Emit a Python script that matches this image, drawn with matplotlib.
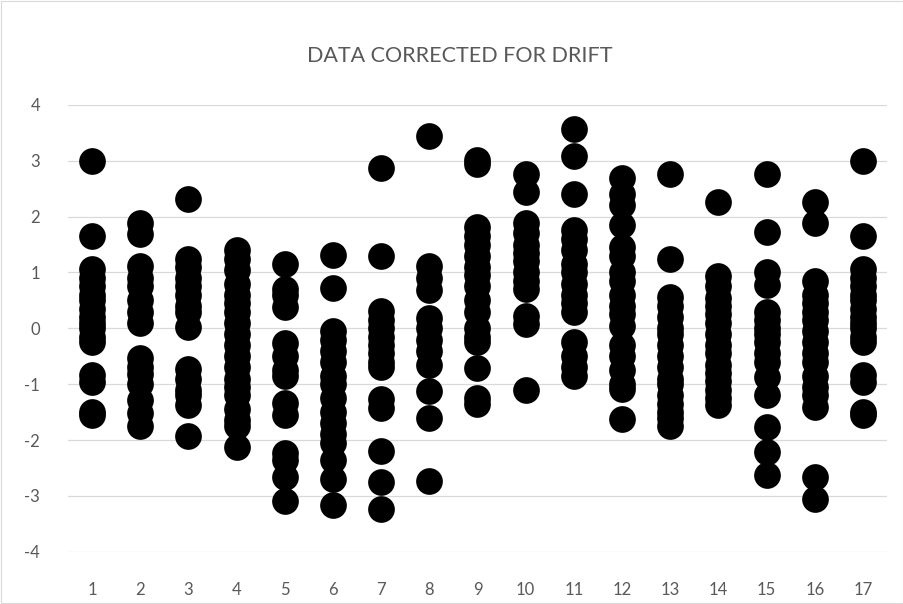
import matplotlib
matplotlib.use("Agg")
import matplotlib.pyplot as plt
from matplotlib.patches import Rectangle

title = "DATA CORRECTED FOR DRIFT"
categories = list(range(1, 18))

c1 = [3.0, 1.66, 1.06, 0.9, 0.75, 0.6, 0.5, 0.35, 0.2, 0.1, 0.0, -0.15, -0.25,
      -0.84, -0.97, -1.5, -1.55]
c2 = [1.89, 1.69, 1.12, 0.9, 0.75, 0.51, 0.3, 0.09, -0.54, -0.7, -0.81, -1.0,
      -1.28, -1.52, -1.75]
c3 = [2.31, 1.25, 1.1, 0.9, 0.75, 0.6, 0.4, 0.3, 0.02, -0.73, -0.9, -1.1, -1.2,
      -1.37, -1.93]
c4 = [1.4, 1.25, 1.05, 0.8, 0.6, 0.45, 0.3, 0.1, -0.1, -0.3, -0.5, -0.7, -0.9,
      -1.05, -1.2, -1.45, -1.65, -1.75, -2.12]
c5 = [1.16, 0.7, 0.6, 0.38, -0.26, -0.5, -0.75, -0.85, -1.34, -1.55, -2.23,
      -2.35, -2.66, -3.1]
c6 = [1.31, 0.73, -0.05, -0.2, -0.4, -0.6, -0.85, -1.0, -1.25, -1.5, -1.7, -1.9,
      -2.05, -2.35, -2.7, -3.17]
c7 = [2.88, 1.29, 0.31, 0.15, 0.0, -0.15, -0.3, -0.45, -0.6, -0.69, -1.26,
      -1.42, -2.2, -2.76, -3.23]
c8 = [3.44, 1.12, 0.9, 0.69, 0.19, 0.0, -0.2, -0.4, -0.66, -1.13, -1.6, -2.74]
c9 = [3.02, 2.94, 1.82, 1.65, 1.5, 1.3, 1.1, 0.95, 0.75, 0.5, 0.3, 0.0, -0.15,
      -0.25, -0.71, -1.25, -1.35]
c10 = [2.76, 2.45, 1.89, 1.7, 1.5, 1.35, 1.2, 1.0, 0.85, 0.7, 0.22, 0.08, -1.1]
c11 = [3.57, 3.08, 2.41, 1.76, 1.6, 1.4, 1.15, 1.0, 0.8, 0.6, 0.45, 0.3, -0.24,
       -0.5, -0.7, -0.86]
c12 = [2.7, 2.4, 2.2, 1.85, 1.45, 1.3, 1.0, 0.85, 0.6, 0.4, 0.25, 0.05, -0.3,
       -0.5, -0.75, -1.0, -1.08, -1.63]
c13 = [2.77, 1.24, 0.57, 0.4, 0.2, 0.0, -0.1, -0.3, -0.5, -0.7, -0.9, -1.0,
       -1.2, -1.35, -1.5, -1.6, -1.75]
c14 = [2.26, 0.93, 0.75, 0.55, 0.4, 0.25, 0.1, -0.1, -0.3, -0.45, -0.65, -0.8,
       -0.95, -1.1, -1.25, -1.37]
c15 = [2.77, 1.73, 1.01, 0.78, 0.3, 0.15, 0.0, -0.1, -0.25, -0.45, -0.6, -0.87,
       -1.19, -1.76, -2.21, -2.63]
c16 = [2.26, 1.88, 0.85, 0.6, 0.45, 0.3, 0.15, -0.05, -0.25, -0.45, -0.6, -0.85,
       -1.05, -1.2, -1.4, -2.66, -3.06]
c17 = [3.0, 1.66, 1.06, 0.9, 0.75, 0.6, 0.5, 0.35, 0.2, 0.1, 0.0, -0.15, -0.25,
       -0.84, -0.97, -1.5, -1.55]

columns = [c1, c2, c3, c4, c5, c6, c7, c8, c9, c10, c11, c12, c13, c14, c15, c16, c17]
y_ticks = [-4, -3, -2, -1, 0, 1, 2, 3, 4]

plt.rcParams['font.family'] = ['Lato', 'DejaVu Sans']

fig = plt.figure(figsize=(9.04, 6.04), dpi=100)
fig.patches.append(Rectangle((0.0008, 0.0012), 0.9984, 0.9976, transform=fig.transFigure,
                             fill=False, edgecolor='#d9d9d9', linewidth=0.8))
ax = fig.add_axes([0.0752, 0.0866, 0.906, 0.7396])

for cat, vals in zip(categories, columns):
    ax.scatter([cat] * len(vals), vals, s=370, color='black', linewidths=0, zorder=3)

ax.set_xlim(0.5, 17.5)
ax.set_ylim(-4, 4)
ax.set_yticks(y_ticks)
ax.set_yticklabels([str(t) for t in y_ticks])
ax.set_xticks(categories)
ax.set_xticklabels([str(c) for c in categories])
ax.grid(axis='y', color='#d9d9d9', linewidth=0.9, zorder=0)
ax.set_axisbelow(True)
for sp in ax.spines.values():
    sp.set_visible(False)
ax.tick_params(axis='both', length=0, colors='#595959', labelsize=12)
ax.tick_params(axis='x', pad=22)
ax.tick_params(axis='y', pad=20)

fig.text(0.509, 0.907, title, ha='center', va='center', fontsize=15.5, color='#595959')

fig.savefig("out.png", dpi=100)
